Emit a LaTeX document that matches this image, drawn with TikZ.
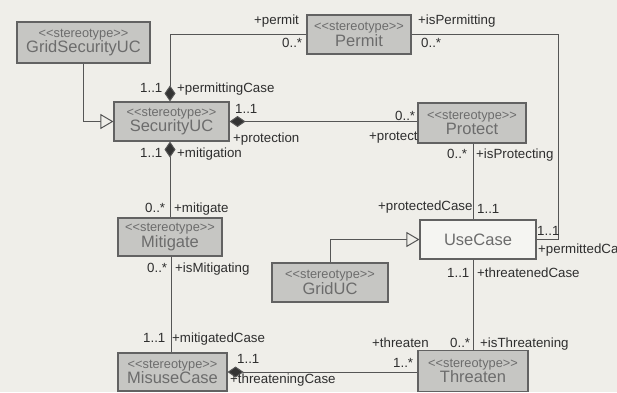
\documentclass[tikz,border=0pt]{standalone}
\usepackage{fontspec}
\setmainfont{Liberation Sans}
\usetikzlibrary{arrows.meta}
\definecolor{paper}{HTML}{EFEEE9}
\definecolor{classfill}{HTML}{C6C6C3}
\definecolor{classline}{HTML}{626262}
\definecolor{classtext}{HTML}{6C6C6C}
\definecolor{wire}{HTML}{555555}
\definecolor{labeltext}{HTML}{2E2E2E}
\tikzset{
  umlclass/.style={draw=classline, line width=1.1pt, fill=classfill, inner sep=0pt,
    align=center, text=classtext, font=\fontsize{16.5}{17}\selectfont},
  plainclass/.style={umlclass, fill=paper!60!white},
  assoc/.style={draw=wire, line width=1pt},
  comp/.style={assoc, {Diamond[length=16pt,width=11pt,fill=black!80]}-},
  genl/.style={assoc, -{Triangle[open,length=13pt,width=15pt,fill=paper]}},
  role/.style={anchor=base west, inner sep=0pt, text=labeltext, font=\fontsize{13.3}{14}\selectfont},
}
\newcommand{\stereo}{{\fontsize{12.8}{13}\selectfont <{}<stereotype>{}>}\\[-1.5pt]}
\begin{document}
\begin{tikzpicture}[x=1pt,y=-1pt]
\useasboundingbox[fill=paper] (0,0) rectangle (617,392);

% classes
\node[umlclass, minimum width=133pt, minimum height=41pt] (gsuc) at (83.5,42.5) {\stereo GridSecurityUC};
\node[umlclass, minimum width=104pt, minimum height=39pt] (permit) at (359,34.5) {\stereo Permit};
\node[umlclass, minimum width=115pt, minimum height=39pt] (secuc) at (171.5,121.5) {\stereo SecurityUC};
\node[umlclass, minimum width=108pt, minimum height=40pt] (protect) at (472,123) {\stereo Protect};
\node[umlclass, minimum width=104pt, minimum height=38pt] (mitigate) at (170,237) {\stereo Mitigate};
\node[plainclass, minimum width=116pt, minimum height=39pt] (usecase) at (478,239.5) {UseCase};
\node[umlclass, minimum width=116pt, minimum height=39pt] (griduc) at (330,282.5) {\stereo GridUC};
\node[umlclass, minimum width=109pt, minimum height=38pt] (misuse) at (172.5,372) {\stereo MisuseCase};
\node[umlclass, minimum width=110pt, minimum height=41pt] (threaten) at (473,371) {\stereo Threaten};

% bend points
\coordinate (permitbend) at (170,34.5);
\coordinate (permitright) at (558,239.5);

% generalizations
\draw[genl] (gsuc.south) |- (secuc.west);
\draw[genl] (griduc.north) |- (usecase.west);

% associations
\draw[comp] (secuc.north -| permitbend) -- (permitbend) -- (permit.west);
\draw[assoc] (permit.east) -| (permitright) -- (usecase.east);
\draw[comp] (secuc.east) -- (protect.west |- secuc.east);
\draw[assoc] (protect.south -| 473,0) -- (usecase.north -| 473,0);
\draw[comp] (secuc.south -| permitbend) -- (mitigate.north -| permitbend);
\draw[assoc] (mitigate.south -| 171,0) -- (misuse.north -| 171,0);
\draw[comp] (misuse.east) -- (threaten.west |- misuse.east);
\draw[assoc] (usecase.south -| threaten.north) -- (threaten.north);

% role names and multiplicities
\node[role] (l1) at (254,24) {+permit};
\node[role] (l2) at (282,47) {0..*};
\node[role] (l3) at (140,92) {1..1};
\node[role] (l4) at (177,92) {+permittingCase};
\node[role] (l5) at (235,113) {1..1};
\node[role] (l6) at (233,142) {+protection};
\node[role] (l7) at (140,157) {1..1};
\node[role] (l8) at (177,157) {+mitigation};
\node[role] (l9) at (418,24) {+isPermitting};
\node[role] (l10) at (421,47) {0..*};
\node[role] (l11) at (395,120) {0..*};
\node[role] (l12) at (369,140) {+protect};
\node[role] (l13) at (447,158) {0..*};
\node[role] (l14) at (476,158) {+isProtecting};
\node[role] (l15) at (145,212) {0..*};
\node[role] (l16) at (174,212) {+mitigate};
\node[role] (l17) at (147,272) {0..*};
\node[role] (l18) at (175,272) {+isMitigating};
\node[role] (l19) at (143,342) {1..1};
\node[role] (l20) at (172,342) {+mitigatedCase};
\node[role] (l21) at (237,363) {1..1};
\node[role] (l22) at (230,383) {+threateningCase};
\node[role] (l23) at (378,210) {+protectedCase};
\node[role] (l24) at (477,213) {1..1};
\node[role] (l25) at (537,235) {1..1};
\node[role] (l26) at (538,253) {+permittedCase};
\node[role] (l27) at (447,277) {1..1};
\node[role] (l28) at (477,277) {+threatenedCase};
\node[role] (l29) at (372,347) {+threaten};
\node[role] (l30) at (450,347) {0..*};
\node[role] (l31) at (480,347) {+isThreatening};
\node[role] (l32) at (393,367) {1..*};
\end{tikzpicture}
\end{document}
